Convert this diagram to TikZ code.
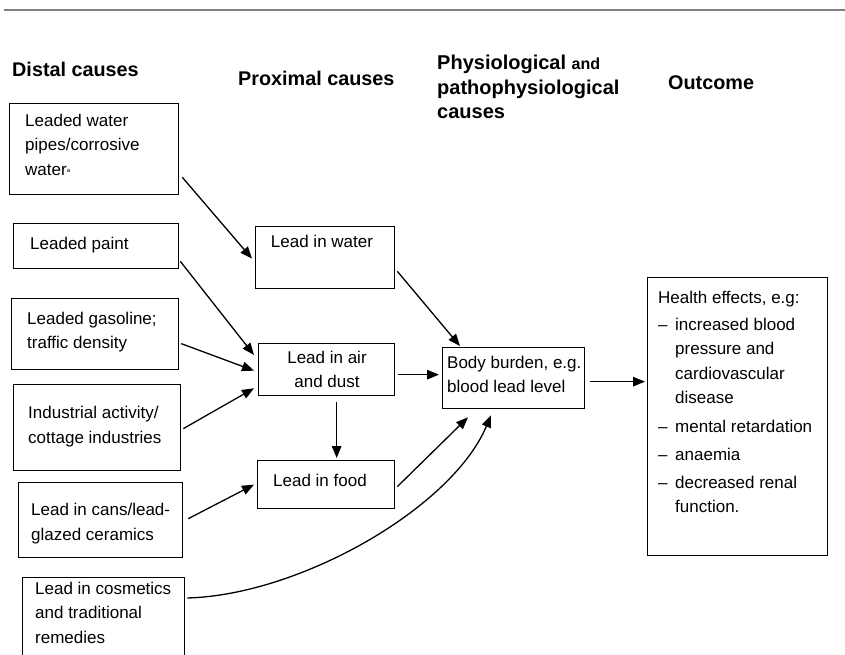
\documentclass[tikz,border=0pt]{standalone}
\usepackage{fontspec}
\setmainfont{Liberation Sans}
\usetikzlibrary{arrows.meta,calc}
\begin{document}
\begin{tikzpicture}[x=1pt,y=-1pt,
  box/.style={draw, line width=1.3pt, rectangle, anchor=north west, inner sep=0pt},
  txt/.style={inner sep=0pt, anchor=north west, align=left, font=\fontsize{17}{24.5}\selectfont},
  ctxt/.style={inner sep=0pt, anchor=north, align=center, font=\fontsize{17}{24.5}\selectfont},
  hdr/.style={inner sep=0pt, anchor=west, font=\fontsize{19.8}{24.5}\selectfont\bfseries},
  arr/.style={-{Triangle[length=12pt,width=9.5pt]}, line width=1.3pt}]
\clip (0,0) rectangle (845,655);
\fill[white] (0,0) rectangle (845,655);
\coordinate (l1) at (4,10);
\coordinate (l2) at (845,10);
\draw[gray, line width=1.6pt] (l1) -- (l2);

% headers
\node[hdr] (h1) at (12,69) {Distal causes};
\node[hdr] (h2) at (238,78) {Proximal causes};
\node[hdr, anchor=north west, align=left, font=\fontsize{20}{24.5}\selectfont\bfseries] (h3) at (437,55)
  {Physiological {\fontsize{16}{16}\selectfont and}\\pathophysiological\\causes};
\node[hdr] (h4) at (668,83) {Outcome};

% distal boxes
\node[box, minimum width=169pt, minimum height=91pt] (dw) at (9,103) {};
\node[txt] (dwt) at (25,113.7) {Leaded water\\pipes/corrosive\\water{\fontsize{6}{6}\selectfont\raisebox{3pt}{a}}};
\node[box, minimum width=165pt, minimum height=45pt] (dp) at (13,223) {};
\node[txt] (dpt) at (30,236.7) {Leaded paint};
\node[box, minimum width=167pt, minimum height=71pt] (dg) at (11,298) {};
\node[txt] (dgt) at (27,311.7) {Leaded gasoline;\\traffic density};
\node[box, minimum width=167pt, minimum height=86pt] (di) at (13,384) {};
\node[txt] (dit) at (28,406.2) {Industrial activity/\\cottage industries};
\node[box, minimum width=164pt, minimum height=75pt] (dc) at (18,482) {};
\node[txt] (dct) at (31,503.2) {Lead in cans/lead-\\glazed ceramics};
\node[box, minimum width=162pt, minimum height=110pt] (dm) at (22,577) {};
\node[txt] (dmt) at (35,581.7) {Lead in cosmetics\\and traditional\\remedies};

% proximal boxes
\node[box, minimum width=139pt, minimum height=62pt] (pw) at (255,226) {};
\node[ctxt] (pwt) at (322,234.7) {Lead in water};
\node[box, minimum width=136pt, minimum height=52pt] (pa) at (258,343) {};
\node[ctxt] (pat) at (327,350.7) {Lead in air\\and dust};
\node[box, minimum width=137pt, minimum height=48pt] (pf) at (257,460) {};
\node[txt] (pft) at (273,473.7) {Lead in food};

% physiological
\node[box, minimum width=142pt, minimum height=61pt] (bb) at (442,347) {};
\node[txt] (bbt) at (447,355.7) {Body burden, e.g.\\blood lead level};

% outcome
\node[box, minimum width=180pt, minimum height=278pt] (hb) at (647,277) {};
\node[txt] (hbt) at (658,290.7) {Health effects, e.g:\\[2.5pt]
  \makebox[17pt][l]{–}increased blood\\
  \hspace*{17pt}pressure and\\
  \hspace*{17pt}cardiovascular\\
  \hspace*{17pt}disease\\[4pt]
  \makebox[17pt][l]{–}mental retardation\\[3.5pt]
  \makebox[17pt][l]{–}anaemia\\[3.5pt]
  \makebox[17pt][l]{–}decreased renal\\
  \hspace*{17pt}function.};

% arrows
\draw[arr] ($(dw.south east)+(3,-18)$) -- ($(pw.west)+(-3,1)$);
\draw[arr] ($(dp.south east)+(1,-8)$) -- ($(pa.north west)+(-4,12)$);
\draw[arr] ($(dg.east)+(2,9.5)$) -- ($(pa.west)+(-4,1)$);
\draw[arr] ($(di.east)+(2,1)$) -- ($(pa.south west)+(-4,-8)$);
\draw[arr] ($(dc.east)+(5,-1.5)$) -- ($(pf.west)+(-3,0)$);
\coordinate (c1) at (300,595);
\coordinate (c2) at (452,508);
\draw[arr] ($(dm.north east)+(2,21)$) .. controls (c1) and (c2) .. ($(bb.south west)+(49,6)$);
\draw[arr] ($(pw.south east)+(2,-18)$) -- ($(bb.north west)+(18,-1)$);
\draw[arr] ($(pa.east)+(3,5)$) -- ($(bb.west)+(-3,-3.5)$);
\draw[arr] ($(pa.south)+(10,6)$) -- ($(pf.north)+(10.5,-2)$);
\draw[arr] ($(pf.east)+(2,2)$) -- ($(bb.south west)+(26,8)$);
\draw[arr] ($(bb.east)+(5,3.5)$) -- ($(hb.west)+(-2,-35)$);
\end{tikzpicture}
\end{document}
